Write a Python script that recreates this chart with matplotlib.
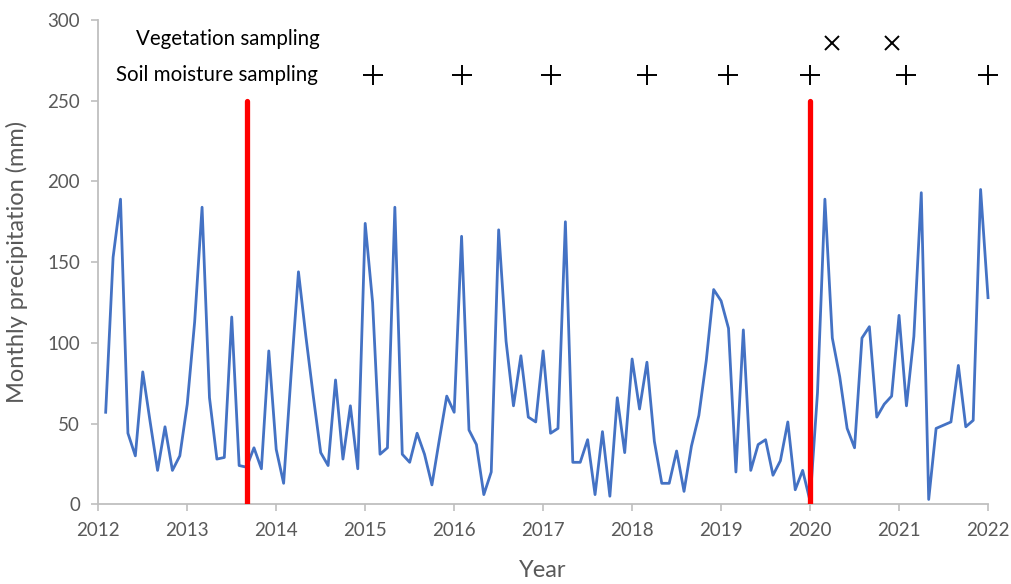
import matplotlib.pyplot as plt
import numpy as np

# ── Data ────────────────────────────────────────────────────
start_year = 2012
precip = [57, 153, 189, 44, 30, 82, 51, 21, 48, 21, 30, 62,
          113, 184, 66, 28, 29, 116, 24, 23, 35, 22, 95, 34,
          13, 80, 144, 104, 67, 32, 24, 77, 28, 61, 22, 174,
          125, 31, 35, 184, 31, 26, 44, 31, 12, 40, 67, 57,
          166, 46, 37, 6, 20, 170, 101, 61, 92, 54, 51, 95,
          44, 47, 175, 26, 26, 40, 6, 45, 5, 66, 32, 90,
          59, 88, 39, 13, 13, 33, 8, 36, 55, 89, 133, 126,
          109, 20, 108, 21, 37, 40, 18, 27, 51, 9, 21, 2,
          69, 189, 103, 79, 47, 35, 103, 110, 54, 62, 67, 117,
          61, 104, 193, 3, 47, 49, 51, 86, 48, 52, 195, 128]
months = start_year + np.arange(1, len(precip) + 1) / 12

soil_dates = [2015.083, 2016.083, 2017.083, 2018.167, 2019.083,
              2020.0, 2021.083, 2022.0]
soil_level = 266
veg_dates = [2020.25, 2020.917]
veg_level = 286
red_lines = [2013.667, 2020.0]
red_top = 250

x_ticks = list(range(2012, 2023))
y_ticks = [0, 50, 100, 150, 200, 250, 300]

plt.rcParams["font.family"] = ["Lato", "DejaVu Sans"]
grey_txt = "#595959"
grey_ax = "#BFBFBF"

fig = plt.figure(figsize=(10.12, 5.84), dpi=100)
ax = fig.add_axes([0.0971, 0.1365, 0.8792, 0.8293])

ax.plot(months, precip, color="#4472C4", lw=2.0, zorder=2, clip_on=False)

for xv in red_lines:
    ax.plot([xv, xv], [0, red_top], color="#FF0000", lw=3.8,
            solid_capstyle="round", zorder=3)

ax.plot(soil_dates, [soil_level] * len(soil_dates), ls="none",
        marker="+", ms=14, mew=1.4, color="black", clip_on=False)
ax.plot(veg_dates, [veg_level] * len(veg_dates), ls="none",
        marker="x", ms=10.5, mew=1.4, color="black", clip_on=False)

ax.text(2014.49, 288.5, "Vegetation sampling", ha="right", va="center",
        fontsize=14.8, color="black")
ax.text(2014.47, 266, "Soil moisture sampling", ha="right", va="center",
        fontsize=14.8, color="black")

ax.set_xlim(2012, 2022)
ax.set_ylim(0, 300)
ax.set_xticks(x_ticks)
ax.set_yticks(y_ticks)
ax.tick_params(axis="both", colors=grey_ax, labelcolor=grey_txt,
               labelsize=13.5, length=5, width=1.2, pad=8)

for side in ["top", "right"]:
    ax.spines[side].set_visible(False)
for side in ["left", "bottom"]:
    ax.spines[side].set_color(grey_ax)
    ax.spines[side].set_linewidth(1.3)

ax.set_ylabel("Monthly precipitation (mm)", fontsize=17, color=grey_txt)
ax.set_xlabel("Year", fontsize=17, color=grey_txt)
ax.yaxis.set_label_coords(-0.079, 0.5)
ax.xaxis.set_label_coords(0.5, -0.115)

fig.savefig("out.png", dpi=100)
